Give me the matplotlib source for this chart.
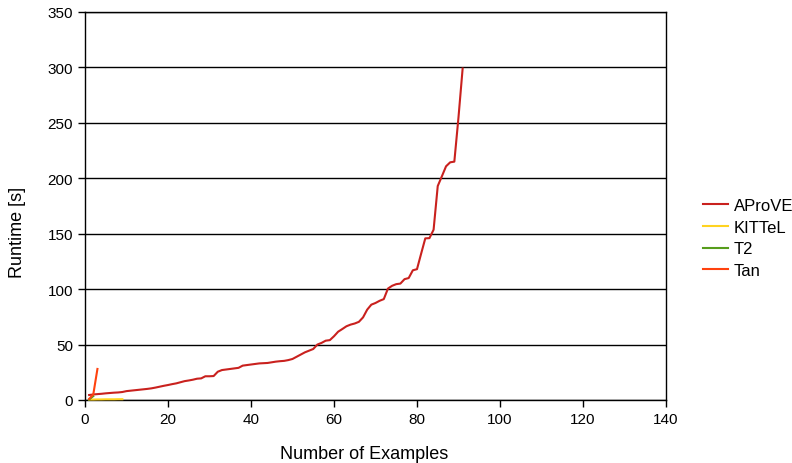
import matplotlib
matplotlib.use("Agg")
import matplotlib.pyplot as plt

plt.rcParams['font.family'] = ['Liberation Sans', 'DejaVu Sans']

# runtimes (s), sorted, one value per solved example
aprove = [4.5, 5, 5.3, 5.6, 6, 6.3, 6.6, 6.8, 7.2, 8,
          8.4, 8.8, 9.2, 9.6, 10, 10.5, 11.2, 12, 12.8, 13.5,
          14.3, 15, 16, 17, 17.6, 18.3, 19.2, 19.5, 21.4, 21.4,
          21.6, 25.5, 27, 27.5, 28, 28.5, 29, 31, 31.5, 32,
          32.5, 33, 33.2, 33.4, 34, 34.6, 35, 35.3, 36, 37,
          39, 41, 43, 44.5, 46, 50, 51.5, 53.5, 54, 57.5,
          61.6, 64, 66.5, 68, 69, 70.5, 74.5, 81.5, 86, 87.5,
          89.5, 91, 100.5, 103, 104.5, 105, 109, 110, 117, 118,
          132, 145.8, 146, 153.6, 193, 201.8, 210.8, 214.4, 215, 255,
          299]
kittel = [0.4, 0.4, 0.5, 0.5, 0.6, 0.6, 0.6, 0.7, 0.7]
t2 = [0.5, 3.5]
tan = [1, 5, 28]

series = [
    ("AProVE", aprove, "#c9211e"),
    ("KITTeL", kittel, "#ffd320"),
    ("T2", t2, "#579d1c"),
    ("Tan", tan, "#ff420e"),
]

fig = plt.figure(figsize=(7.92, 4.64), dpi=100)
ax = fig.add_axes([0.1073, 0.1358, 0.7336, 0.8362])

for name, vals, col in series:
    xs = range(1, len(vals) + 1)
    ax.plot(xs, vals, color=col, lw=1.5, label=name, zorder=3, clip_on=False)

ax.set_xlim(0, 140)
ax.set_ylim(0, 350)
ax.set_xticks(range(0, 141, 20))
ax.set_yticks(range(0, 351, 50))
ax.grid(axis='y', color='black', lw=1)
ax.set_axisbelow(True)
ax.tick_params(direction='out', length=5, labelsize=11, width=1)
for sp in ax.spines.values():
    sp.set_linewidth(1)

# axis titles are placed on the figure, like the original
fig.text(364 / 792, 1 - 455 / 464, "Number of Examples", fontsize=13,
         ha='center', va='center')
fig.text(18 / 792, 0.5, "Runtime [s]", fontsize=13, rotation=90,
         ha='center', va='center')

fig.legend(loc='center left', bbox_to_anchor=(703 / 792, 1 - 239 / 464),
           frameon=False, borderpad=0, borderaxespad=0,
           fontsize=12, handlelength=1.5, handletextpad=0.35, labelspacing=0.4)

fig.savefig("out.png", dpi=100)
